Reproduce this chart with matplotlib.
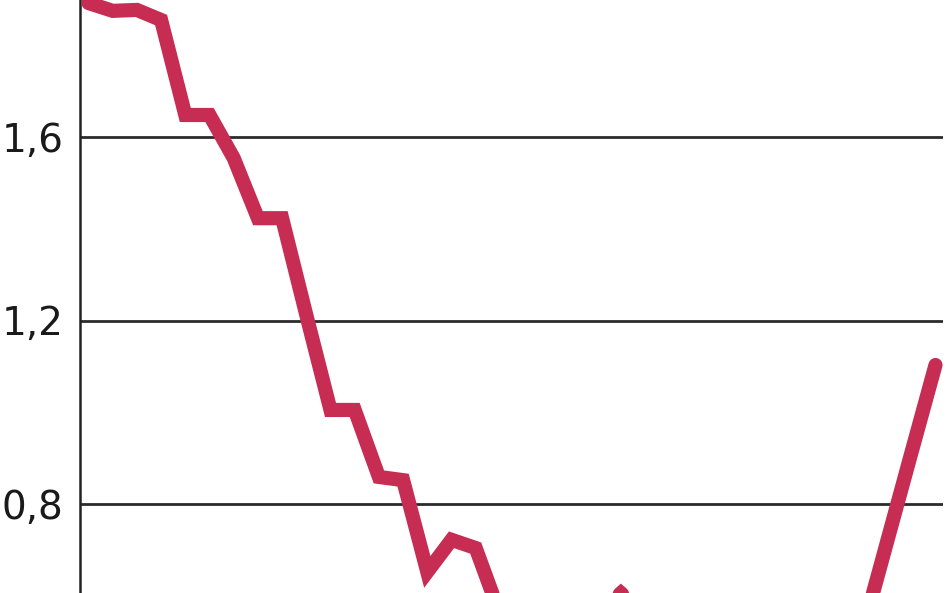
import matplotlib
matplotlib.use("Agg")
import matplotlib.pyplot as plt
from matplotlib import font_manager

# Data (monthly index; hidden lower part estimated)
months = list(range(36))
values = [1.892, 1.875, 1.877, 1.855, 1.648, 1.648, 1.554, 1.423, 1.423, 1.212,
          1.005, 1.005, 0.859, 0.852, 0.652, 0.722, 0.704, 0.560, 0.50, 0.48,
          0.50, 0.560, 0.606, 0.560, 0.52, 0.50, 0.48, 0.47, 0.47, 0.48,
          0.49, 0.50, 0.525, 0.718, 0.911, 1.103]
yticks = [0.8, 1.2, 1.6]
ytick_labels = ["0,8", "1,2", "1,6"]

available = {f.name for f in font_manager.fontManager.ttflist}
if "Liberation Sans Narrow" in available:
    label_font, label_size = "Liberation Sans Narrow", 36
elif "DejaVu Sans Condensed" in available:
    label_font, label_size = "DejaVu Sans Condensed", 30
else:
    label_font, label_size = "DejaVu Sans", 28

W, H = 948, 593
fig = plt.figure(figsize=(W / 100, H / 100), dpi=100)
left_px, right_px = 80, 943
ax = fig.add_axes([left_px / W, 0, (right_px - left_px) / W, 1])

ax.plot(months, values, color="#C72C52", linewidth=10.2,
        solid_capstyle="round", solid_joinstyle="miter", zorder=3)

ax.set_yticks(yticks)
ax.set_yticklabels(ytick_labels)
ax.set_xticks([])

# axis limits derived from pixel layout
px_per_unit = (504 - 137) / 0.8
ax.set_ylim(0.8 - (593 - 504) / px_per_unit, 1.6 + 137 / px_per_unit)
first_px, last_px = 88.5, 935.5
px_per_month = (last_px - first_px) / 35
ax.set_xlim(-(first_px - left_px) / px_per_month, 35 + (right_px - last_px) / px_per_month)

ax.tick_params(axis="y", length=0, pad=12, labelsize=label_size, labelcolor="#1a1a1a")
for lab in ax.get_yticklabels():
    lab.set_fontfamily(label_font)
ax.grid(axis="y", color="#2b2b2b", linewidth=2.0, zorder=1)
ax.set_axisbelow(True)

for s in ["top", "right", "bottom"]:
    ax.spines[s].set_visible(False)
ax.spines["left"].set_color("#222222")
ax.spines["left"].set_linewidth(1.8)

fig.savefig("out.png", dpi=100)
